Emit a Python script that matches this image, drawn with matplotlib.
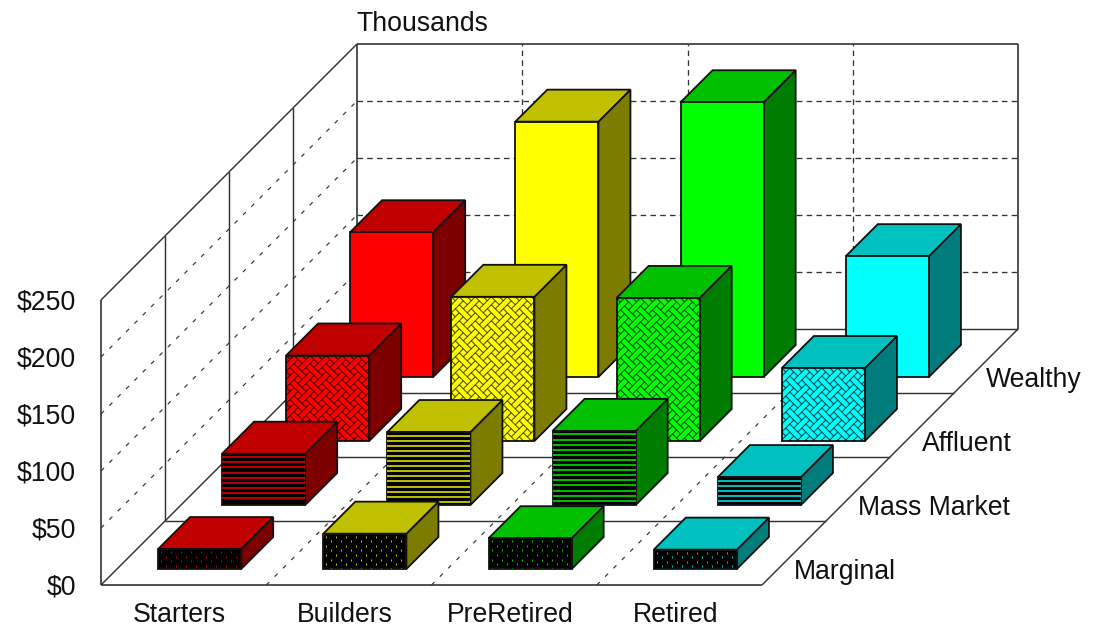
import matplotlib
matplotlib.use("Agg")
import matplotlib.pyplot as plt
from matplotlib.collections import LineCollection
from matplotlib.patches import Polygon

plt.rcParams["font.family"] = ["Liberation Sans", "DejaVu Sans"]

categories = ["Starters", "Builders", "PreRetired", "Retired"]
segments = ["Marginal", "Mass Market", "Affluent", "Wealthy"]
value_ticks = [0, 50, 100, 150, 200, 250]

# Values in thousands of dollars, one list per segment, in category order
marginal = [17.5, 31, 27, 17]
mass_market = [45, 64, 65, 24.5]
affluent = [75, 126.5, 125.5, 64]
wealthy = [127, 224, 241, 106]
series = [marginal, mass_market, affluent, wealthy]

front_colors = ["#ff0000", "#ffff00", "#00ff00", "#00ffff"]
top_colors = ["#c00000", "#c0c000", "#00c000", "#00c0c0"]
side_colors = ["#7c0000", "#7c7c00", "#007c00", "#007c7c"]
fills = ["dots", "stripes", "weave", "solid"]

# 8x8 monochrome weave brush, one byte per row
WEAVE_BYTES = [0x88, 0x54, 0x22, 0x45, 0x88, 0x15, 0x22, 0x51]

# Oblique projection of the chart box onto the canvas, in pixels
ORIGIN_X, ORIGIN_Y = 101.0, 585.0
CELL_W = 165.25
ROW_SHIFT = 64.0
PX_PER_K = 285.0 / 250.0
BAR_W = 0.503
BAR_D = 0.5
EDGE = "#333333"


def project(cat, row, value=0.0):
    x = ORIGIN_X + cat * CELL_W + row * ROW_SHIFT
    y = ORIGIN_Y - row * ROW_SHIFT - value * PX_PER_K
    return x, y


fig = plt.figure(figsize=(10.96, 6.27), dpi=100)
ax = fig.add_axes([0, 0, 1, 1])
ax.set_xlim(0, 1096)
ax.set_ylim(627, 0)
ax.axis("off")

n_cat, n_row = len(categories), len(segments)
vmax = value_ticks[-1]


def line(p, q, dash=None, lw=1.05, z=1):
    style = (0, dash) if dash else "-"
    ax.plot([p[0], q[0]], [p[1], q[1]], color=EDGE, lw=lw, ls=style,
            solid_capstyle="butt", dash_capstyle="butt", zorder=z)


DIAG_DASH = (3.6, 6.4)
WALL_DASH = (4.2, 3.2)

# Dashed gridlines on the walls and floor
for v in value_ticks[1:-1]:
    line(project(0, 0, v), project(0, n_row, v), dash=DIAG_DASH, lw=0.85)
    line(project(0, n_row, v), project(n_cat, n_row, v), dash=WALL_DASH, lw=0.95)
for c in range(1, n_cat):
    line(project(c, 0), project(c, n_row), dash=DIAG_DASH, lw=0.85)
    line(project(c, n_row), project(c, n_row, vmax), dash=WALL_DASH, lw=0.95)

# Solid frame and row separators
for r in range(1, n_row):
    line(project(0, r), project(n_cat, r))
    line(project(0, r), project(0, r, vmax))
line(project(0, 0), project(n_cat, 0), lw=1.2)
line(project(n_cat, 0), project(n_cat, n_row))
line(project(0, 0), project(0, n_row))
line(project(0, 0), project(0, 0, vmax), lw=1.2)
line(project(0, 0, vmax), project(0, n_row, vmax))
line(project(0, n_row), project(0, n_row, vmax), lw=1.2)
line(project(0, n_row, vmax), project(n_cat, n_row, vmax), lw=1.2)
line(project(n_cat, n_row), project(n_cat, n_row, vmax), lw=1.2)
line(project(0, n_row), project(n_cat, n_row))


def add_face(points, color, z):
    face = Polygon(points, closed=True, facecolor=color, edgecolor="#111111",
                   lw=1.3, joinstyle="miter", zorder=z)
    ax.add_patch(face)
    return face


def weave_segments(x0, x1, y0, y1, scale=2.0):
    """Trace the diagonal runs of the 8x8 brush as short strokes over a box."""
    bits = [[(b >> (7 - k)) & 1 for k in range(8)] for b in WEAVE_BYTES]
    tile = []
    for j in range(8):
        for i in range(8):
            if bits[j][i]:
                for di in (-1, 1):
                    if bits[(j + 1) % 8][(i + di) % 8]:
                        tile.append((i, j, i + di, j + 1))
    segs = []
    ty = y0 - 16
    while ty < y1:
        tx = x0 - 16
        while tx < x1:
            for a, b, c, d in tile:
                segs.append([(tx + a * scale, ty + b * scale),
                             (tx + c * scale, ty + d * scale)])
            tx += 8 * scale
        ty += 8 * scale
    return segs


def decorate(face, kind, color, x0, x1, y_top, y_bot, z):
    """Overlay the front-face fill pattern, clipped to the face."""
    if kind == "stripes":
        y = y_top + 3.5
        segs = []
        while y < y_bot - 2:
            segs.append([(x0, y), (x1, y)])
            y += 5.1
        art = LineCollection(segs, colors=color, linewidths=1.1, alpha=0.95, zorder=z)
    elif kind == "dots":
        segs = []
        y = y_top + 3
        k = 0
        while y < y_bot:
            x = x0 + 3 + (k % 2) * 5
            while x < x1:
                segs.append([(x, y - 1), (x, y + 1)])
                x += 10
            y += 4.6
            k += 1
        art = LineCollection(segs, colors=color, linewidths=0.7, alpha=0.8, zorder=z)
    elif kind == "weave":
        art = LineCollection(weave_segments(x0, x1, y_top, y_bot), colors="#000000",
                             linewidths=0.8, alpha=0.68, zorder=z)
    else:
        return
    ax.add_collection(art)
    art.set_clip_path(face)


# Bars, painted from the back row forwards
for r in reversed(range(n_row)):
    for c in range(n_cat):
        v = series[r][c]
        cl = c + (1 - BAR_W) / 2
        cr = cl + BAR_W
        rf = r + (1 - BAR_D) / 2
        rb = rf + BAR_D
        z = 10 + (n_row - r) * 5
        add_face([project(cr, rf), project(cr, rb), project(cr, rb, v),
                  project(cr, rf, v)], side_colors[c], z)
        add_face([project(cl, rf, v), project(cr, rf, v), project(cr, rb, v),
                  project(cl, rb, v)], top_colors[c], z)
        x0, y_bot = project(cl, rf)
        x1, y_top = project(cr, rf, v)
        base = "#000000" if fills[r] in ("stripes", "dots") else front_colors[c]
        front = add_face([project(cl, rf), project(cr, rf), project(cr, rf, v),
                          project(cl, rf, v)], base, z + 1)
        decorate(front, fills[r], front_colors[c], x0, x1, y_top, y_bot, z + 2)

# Text
FS = 19.2
TXT = "#111111"
for v in value_ticks:
    x, y = project(0, 0, v)
    ax.text(x - 25, y + 2.5, f"${v}", ha="right", va="center", fontsize=FS, color=TXT)
for c, name in enumerate(categories):
    x, y = project(c + 0.5, 0)
    ax.text(x - 4, y + 30, name, ha="center", va="center", fontsize=FS, color=TXT)
for r, name in enumerate(segments):
    x, y = project(n_cat, r + 0.5)
    ax.text(x, y + 19, name, ha="left", va="center", fontsize=FS, color=TXT)
x, y = project(0, n_row, vmax)
ax.text(x - 1, y - 20, "Thousands", ha="left", va="center", fontsize=FS, color=TXT)

fig.savefig("out.png", dpi=100, facecolor="white")
